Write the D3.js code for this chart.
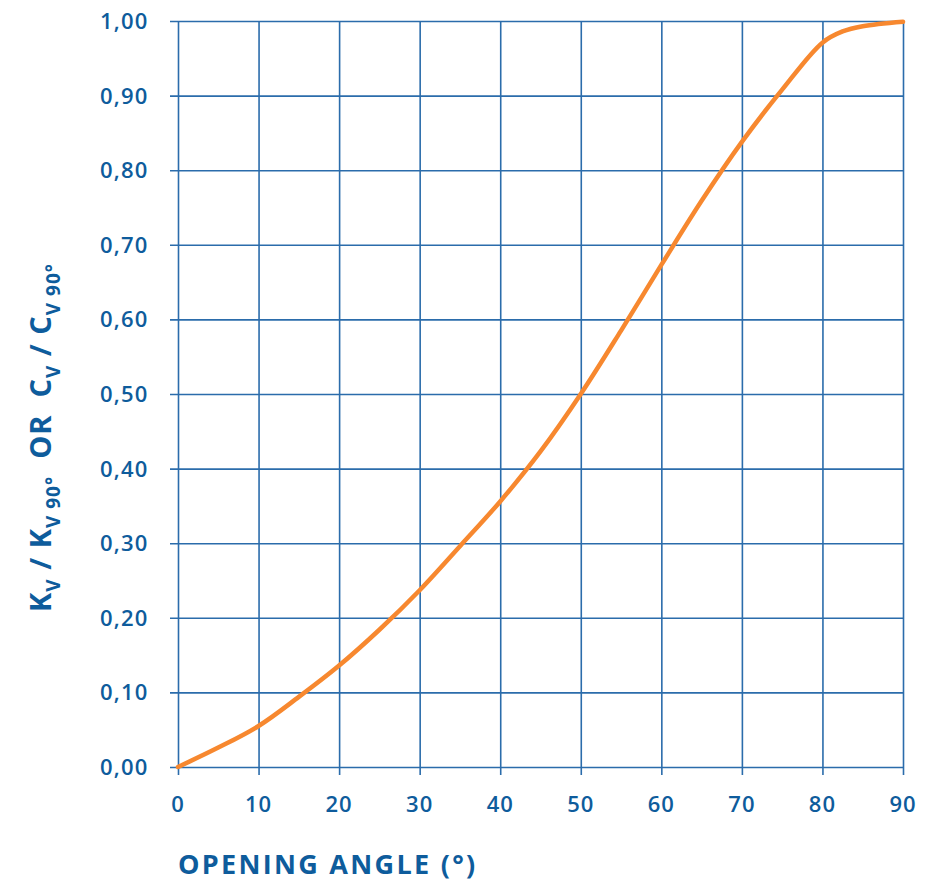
<!DOCTYPE html>
<html>
<head>
<meta charset="utf-8">
<script src="https://cdn.jsdelivr.net/npm/d3@7"></script>
<style>
  html, body { margin: 0; padding: 0; background: #fff; }
  svg { display: block; }
  text { font-family: "Open Sans", "Lato", sans-serif; fill: #0e5c9c; }
</style>
</head>
<body>
<svg id="chart" width="925" height="883"></svg>
<script>
// Data
const angles = [0, 5, 10, 15, 20, 25, 30, 35, 40, 45, 50, 55, 60, 65, 70, 75, 80, 82.5, 85, 90];
const ratios = [0, 0.026, 0.055, 0.094, 0.136, 0.184, 0.237, 0.296, 0.356, 0.423, 0.500, 0.585, 0.673, 0.759, 0.838, 0.908, 0.971, 0.986, 0.993, 0.999];
const xTicks = [0, 10, 20, 30, 40, 50, 60, 70, 80, 90];
const yTicks = [0, 0.1, 0.2, 0.3, 0.4, 0.5, 0.6, 0.7, 0.8, 0.9, 1.0];
const yTickLabels = ["0,00", "0,10", "0,20", "0,30", "0,40", "0,50", "0,60", "0,70", "0,80", "0,90", "1,00"];
const xTitle = "OPENING ANGLE (°)";

const gridColor = "#2b6cab";
const lineColor = "#f7882f";

const svg = d3.select("#chart");
const x = d3.scaleLinear().domain([0, 90]).range([178, 903]);
const y = d3.scaleLinear().domain([0, 1]).range([767, 21]);

// Horizontal grid lines (extend left as ticks)
const gy = svg.append("g")
  .attr("transform", `translate(${x(90)},0)`)
  .call(d3.axisLeft(y).tickValues(yTicks).tickSize(x(90) - 170).tickFormat(""));
gy.select(".domain").remove();
gy.selectAll(".tick line").attr("stroke", gridColor).attr("stroke-width", 1.6);

// Vertical grid lines (extend down as ticks)
const gx = svg.append("g")
  .attr("transform", `translate(0,${y(1)})`)
  .call(d3.axisBottom(x).tickValues(xTicks).tickSize(775 - y(1)).tickFormat(""));
gx.select(".domain").remove();
gx.selectAll(".tick line").attr("stroke", gridColor).attr("stroke-width", 1.6);

// Y tick labels (left aligned)
svg.append("g").selectAll("text")
  .data(yTicks)
  .join("text")
  .attr("x", 100)
  .attr("y", d => y(d) + 8)
  .attr("text-anchor", "start")
  .attr("font-size", 22)
  .attr("font-weight", 600)
  .attr("letter-spacing", 1.2)
  .text((d, i) => yTickLabels[i]);

// X tick labels
svg.append("g").selectAll("text")
  .data(xTicks)
  .join("text")
  .attr("x", d => x(d))
  .attr("y", 812)
  .attr("text-anchor", "middle")
  .attr("font-size", 22)
  .attr("font-weight", 600)
  .attr("letter-spacing", 1)
  .text(d => d);

// X title
svg.append("text")
  .attr("x", 178)
  .attr("y", 874)
  .attr("font-size", 27)
  .attr("font-weight", 700)
  .attr("letter-spacing", 2.3)
  .text(xTitle);

// Y title with subscripts
const yt = svg.append("text")
  .attr("transform", "translate(51,612) rotate(-90)")
  .attr("font-size", 29)
  .attr("font-weight", 700)
  .attr("letter-spacing", 1)
  .attr("text-anchor", "start");
const parts = [
  ["K", 0], ["V", 1], [" / K", 0], ["V 90°", 1], ["  OR  C", 0], ["V", 1], [" / C", 0], ["V 90°", 1]
];
let prevSub = 0;
parts.forEach(([t, sub]) => {
  const ts = yt.append("tspan").text(t).style("white-space", "pre");
  if (sub) { ts.attr("font-size", 19).attr("dy", prevSub ? 0 : 9); }
  else { ts.attr("dy", prevSub ? -9 : 0); }
  prevSub = sub;
});

// Curve
const line = d3.line()
  .x((d, i) => x(angles[i]))
  .y((d, i) => y(ratios[i]))
  .curve(d3.curveCatmullRom.alpha(0.5));
svg.append("path")
  .datum(ratios)
  .attr("d", line)
  .attr("fill", "none")
  .attr("stroke", lineColor)
  .attr("stroke-width", 4.5)
  .attr("stroke-linecap", "round")
  .attr("stroke-linejoin", "round");
</script>
</body>
</html>
